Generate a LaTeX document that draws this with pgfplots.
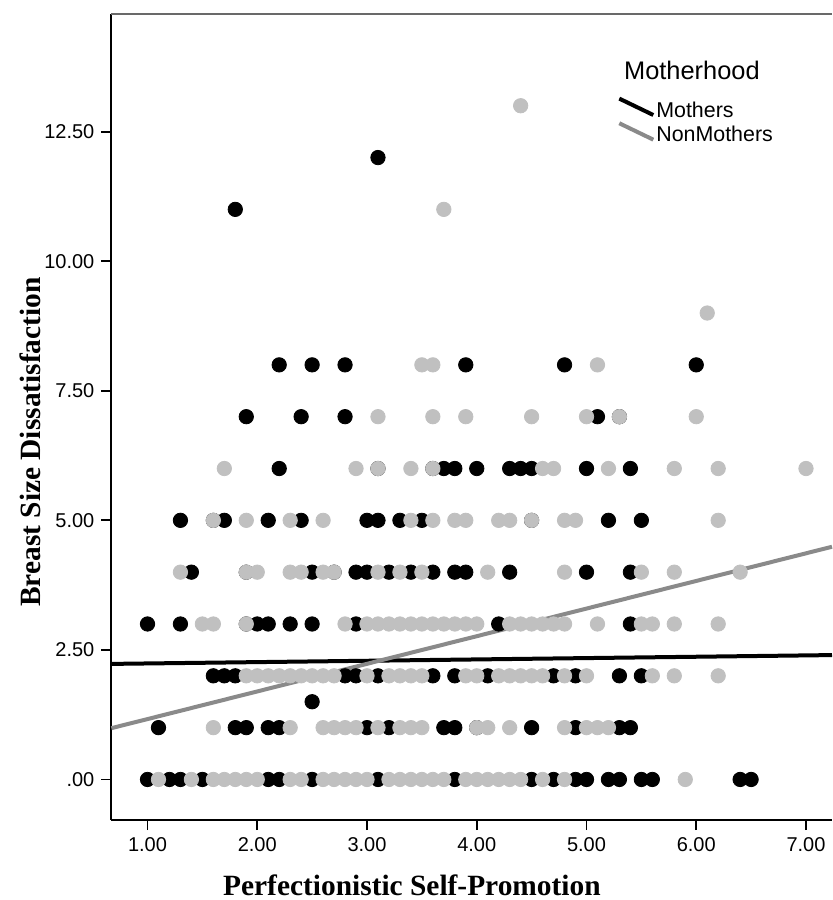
\documentclass[border=0pt]{standalone}
\usepackage{fontspec}
\setmainfont{Liberation Sans}
\newfontfamily\labelfont{Liberation Serif}
\usepackage{pgfplots}
\pgfplotsset{compat=1.18}
\usetikzlibrary{calc}
\definecolor{dotgray}{RGB}{192,192,192}
\definecolor{linegray}{RGB}{138,138,138}
\definecolor{framegray}{RGB}{105,105,105}

\begin{document}
\begin{tikzpicture}
\begin{axis}[
  scale only axis,
  width=360.3pt, height=403pt,
  xmin=0.671, xmax=7.237,
  ymin=-0.782, ymax=14.77,
  clip=false,
  axis x line*=bottom, axis y line*=left,
  axis line style={line width=0.9pt, black},
  xtick={1,2,3,4,5,6,7},
  xticklabels={1.00,2.00,3.00,4.00,5.00,6.00,7.00},
  ytick={0,2.5,5,7.5,10,12.5},
  yticklabels={.00,2.50,5.00,7.50,10.00,12.50},
  tick align=outside,
  major tick length=5pt,
  tick style={line width=0.9pt, black},
  tick label style={font=\fontsize{10}{12}\selectfont},
  xlabel={Perfectionistic Self-Promotion},
  ylabel={Breast Size Dissatisfaction},
  label style={font=\labelfont\bfseries\fontsize{14.7}{17}\selectfont},
  xlabel style={at={(rel axis cs:0.417,-0.0806)}, anchor=center},
  ylabel style={at={(rel axis cs:-0.113,0.469)}, anchor=center},
  legend style={draw=none, fill=none, at={(rel axis cs:0.7015,0.898)},
    anchor=north west, font=\fontsize{10.7}{12.5}\selectfont,
    inner sep=0pt, row sep=0pt, nodes={inner sep=0.5pt}},
  legend image code/.code={\draw[#1] (0pt,6.2pt) -- (17pt,-2pt);},
  legend cell align=left,
]
% Mothers
\addplot[only marks, mark=*, mark size=3.6pt, black, forget plot] coordinates {
  (1.0,0)(1.2,0)(1.3,0)(1.5,0)(2.1,0)(2.2,0)(2.5,0)(3.1,0)(3.8,0)(4.5,0)
  (4.7,0)(4.9,0)(5.0,0)(5.2,0)(5.3,0)(5.5,0)(5.6,0)(6.4,0)(6.5,0)
  (1.1,1)(1.8,1)(1.9,1)(2.1,1)(2.2,1)(3.0,1)(3.2,1)(3.7,1)(3.8,1)(4.0,1)
  (4.5,1)(4.9,1)(5.3,1)(5.4,1)
  (2.5,1.5)
  (1.6,2)(1.7,2)(1.8,2)(2.8,2)(2.9,2)(3.1,2)(3.6,2)(3.8,2)(4.1,2)(4.7,2)
  (4.9,2)(5.3,2)(5.5,2)
  (1.0,3)(1.3,3)(1.9,3)(2.0,3)(2.1,3)(2.3,3)(2.5,3)(2.9,3)(4.2,3)(5.4,3)
  (1.4,4)(1.9,4)(2.5,4)(2.7,4)(2.9,4)(3.0,4)(3.2,4)(3.4,4)(3.6,4)(3.8,4)
  (3.9,4)(4.3,4)(5.0,4)(5.4,4)
  (1.3,5)(1.6,5)(1.7,5)(2.1,5)(2.4,5)(3.0,5)(3.1,5)(3.3,5)(3.5,5)(4.5,5)
  (5.2,5)(5.5,5)
  (2.2,6)(3.1,6)(3.6,6)(3.7,6)(3.8,6)(4.0,6)(4.3,6)(4.4,6)(4.5,6)(5.0,6)(5.4,6)
  (1.9,7)(2.4,7)(2.8,7)(5.1,7)(5.3,7)
  (2.2,8)(2.5,8)(2.8,8)(3.9,8)(4.8,8)(6.0,8)
  (1.8,11)(3.1,12)
};
% NonMothers
\addplot[only marks, mark=*, mark size=3.6pt, dotgray, forget plot] coordinates {
  (1.1,0)(1.4,0)(1.6,0)(1.7,0)(1.8,0)(1.9,0)(2.0,0)(2.3,0)(2.4,0)(2.6,0)
  (2.7,0)(2.8,0)(2.9,0)(3.0,0)(3.2,0)(3.3,0)(3.4,0)(3.5,0)(3.6,0)(3.7,0)
  (3.9,0)(4.0,0)(4.1,0)(4.2,0)(4.3,0)(4.4,0)(4.6,0)(4.8,0)(5.9,0)
  (1.6,1)(2.3,1)(2.6,1)(2.7,1)(2.8,1)(2.9,1)(3.1,1)(3.3,1)(3.4,1)(3.5,1)
  (4.0,1)(4.1,1)(4.3,1)(4.8,1)(5.0,1)(5.1,1)(5.2,1)
  (1.9,2)(2.0,2)(2.1,2)(2.2,2)(2.3,2)(2.4,2)(2.5,2)(2.6,2)(2.7,2)(3.0,2)
  (3.2,2)(3.3,2)(3.4,2)(3.5,2)(3.9,2)(4.0,2)(4.2,2)(4.3,2)(4.4,2)(4.5,2)
  (4.6,2)(4.8,2)(5.0,2)(5.6,2)(5.8,2)(6.2,2)
  (1.5,3)(1.6,3)(1.9,3)(2.8,3)(3.0,3)(3.1,3)(3.2,3)(3.3,3)(3.4,3)(3.5,3)
  (3.6,3)(3.7,3)(3.8,3)(3.9,3)(4.0,3)(4.3,3)(4.4,3)(4.5,3)(4.6,3)(4.7,3)
  (4.8,3)(5.1,3)(5.5,3)(5.6,3)(5.8,3)(6.2,3)
  (1.3,4)(1.9,4)(2.0,4)(2.3,4)(2.4,4)(2.6,4)(2.7,4)(3.1,4)(3.3,4)(3.5,4)
  (4.1,4)(4.8,4)(5.5,4)(5.8,4)(6.4,4)
  (1.6,5)(1.9,5)(2.3,5)(2.6,5)(3.4,5)(3.6,5)(3.8,5)(3.9,5)(4.2,5)(4.3,5)
  (4.5,5)(4.8,5)(4.9,5)(6.2,5)
  (1.7,6)(2.9,6)(3.1,6)(3.4,6)(3.6,6)(4.6,6)(4.7,6)(5.2,6)(5.8,6)(6.2,6)(7.0,6)
  (3.1,7)(3.6,7)(3.9,7)(4.5,7)(5.0,7)(5.3,7)(6.0,7)
  (3.5,8)(3.6,8)(5.1,8)
  (6.1,9)(3.7,11)(4.4,13)
};
% fit lines
\addplot[black, line width=2pt] coordinates {(0.671,2.23) (7.237,2.40)};
\addlegendentry{Mothers}
\addplot[linegray, line width=2pt] coordinates {(0.671,0.99) (7.237,4.49)};
\addlegendentry{NonMothers}
\draw[framegray, line width=1.2pt] (rel axis cs:0,1) -- (rel axis cs:1,1);
\node[anchor=base west, inner sep=0pt, font=\fontsize{12.7}{15}\selectfont]
  at (rel axis cs:0.711,0.919) {Motherhood};
\coordinate (sw) at (rel axis cs:0,0);
\coordinate (ne) at (rel axis cs:1,1);
\end{axis}
\pgfresetboundingbox
\path ($(sw)+(-55.7pt,-40pt)$) rectangle ($(ne)+(0pt,7pt)$);
\end{tikzpicture}
\end{document}
